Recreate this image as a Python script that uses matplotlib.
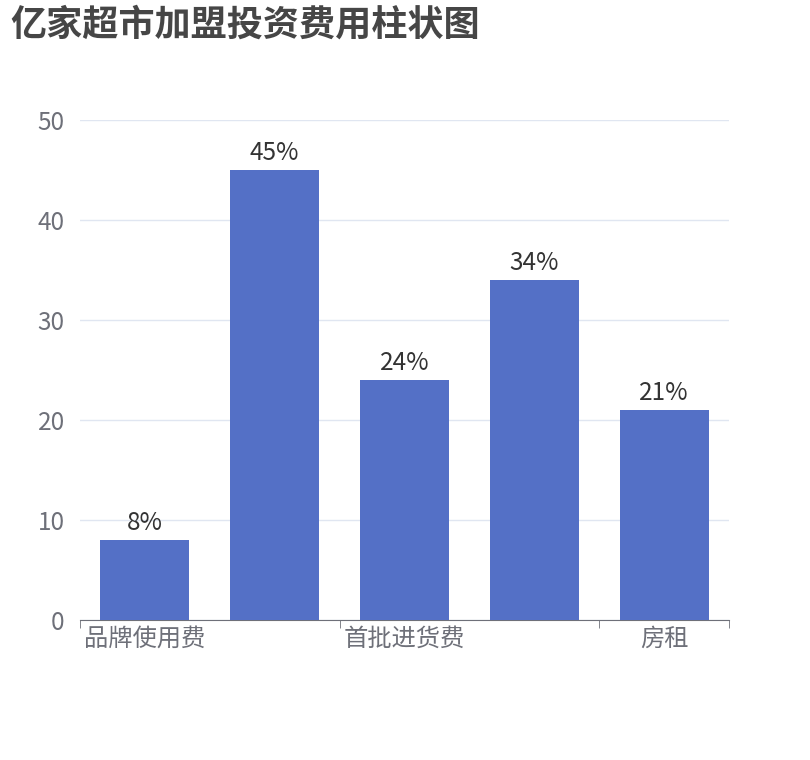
import matplotlib
matplotlib.use("Agg")
import matplotlib.pyplot as plt

plt.rcParams['font.family'] = ['Noto Sans CJK SC', 'DejaVu Sans']

categories = ['品牌使用费', '装修费', '首批进货费', '设备费', '房租']
values = [8, 45, 24, 34, 21]
bar_labels = ['8%', '45%', '24%', '34%', '21%']
yticks = [0, 10, 20, 30, 40, 50]

fig = plt.figure(figsize=(8.1, 7.6), dpi=100)
ax = fig.add_axes([80/810, 1-620/760, 649/810, 500/760])
x = list(range(len(categories)))
ax.bar(x, values, width=0.686, color='#5470c6', zorder=3)
for xi, v, l in zip(x, values, bar_labels):
    ax.annotate(l, (xi, v), xytext=(0, 3), textcoords='offset points',
                ha='center', va='bottom', fontsize=17.5, color='#333333')
ax.set_xlim(-0.5, 4.5)
ax.set_ylim(0, 50)
ax.set_yticks(yticks)
ax.set_yticklabels([str(t) for t in yticks], fontsize=17.5, color='#6e7079')
ax.yaxis.grid(True, color='#e0e6f1', lw=1, zorder=0)
ax.tick_params(axis='y', length=0, pad=11)
ax.set_xticks([0, 2, 4])
ax.set_xticklabels([categories[i] for i in [0, 2, 4]], fontsize=17.5, color='#6e7079')
ax.tick_params(axis='x', length=0, pad=4)
ax.set_xticks([-0.5, 1.5, 3.5, 4.5], minor=True)
ax.tick_params(axis='x', which='minor', length=6, color='#6e7079')
for s in ['top', 'right', 'left']:
    ax.spines[s].set_visible(False)
ax.spines['bottom'].set_color('#6e7079')
fig.text(10/810, 1-25/760, '亿家超市加盟投资费用柱状图', fontsize=26, fontweight='bold',
         color='#464646', va='center', ha='left')
fig.savefig('out.png', dpi=100)
